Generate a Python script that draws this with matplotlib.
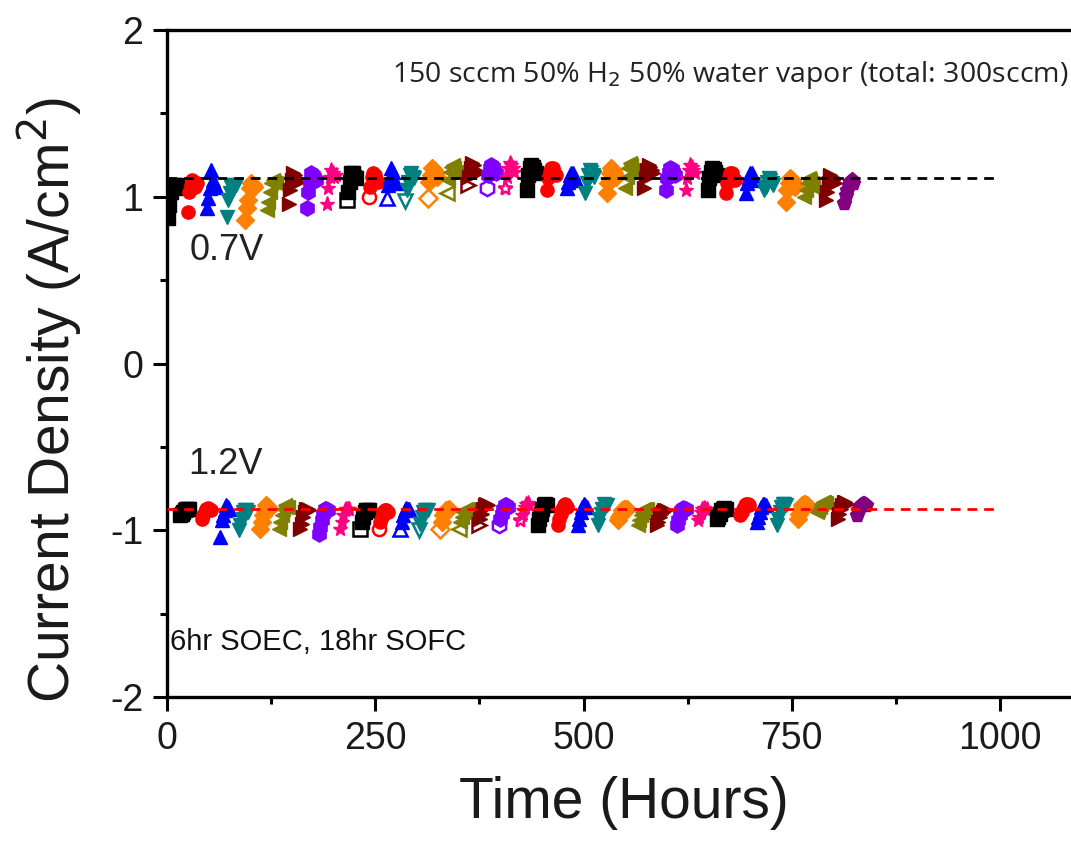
import matplotlib
matplotlib.use("Agg")
import matplotlib.pyplot as plt

# ---- data -------------------------------------------------------------
# hours at which each operating block starts (SOFC at 0.7 V, SOEC at 1.2 V)
sofc_start = [1, 25, 48, 72, 94, 120, 146, 168, 192, 216, 242, 264, 286, 313,
              336, 361, 384, 406, 432, 456, 480, 502, 528, 550, 573, 599, 623,
              649, 671, 695, 717, 743, 765, 791, 813]
soec_start = [16, 42, 64, 86, 112, 134, 160, 182, 208, 232, 254, 280, 302, 328,
              350, 374, 398, 424, 445, 469, 493, 517, 541, 565, 588, 612, 637,
              660, 688, 708, 732, 757, 780, 805, 828]
# sampling offsets (hours) inside one block
sample_offsets = [0, 1.8, 3.6, 5.4, 7.2, 9.0, 10.8]

# current density (A/cm2) during each SOFC block at 0.7 V
sofc_j = [
    [0.87, 0.95, 1.03, 1.06, 1.07, 1.05, 1.07],
    [0.91, 1.03, 1.07, 1.10, 1.09, 1.06, 1.08],
    [0.93, 0.99, 1.05, 1.16, 1.10, 1.08, 1.06],
    [0.88, 0.98, 1.02, 1.06, 1.07, 1.05, 1.07],
    [0.86, 0.93, 0.98, 1.05, 1.08, 1.07, 1.06],
    [0.92, 0.97, 1.03, 1.08, 1.10, 1.09, 1.08],
    [0.955, 1.04, 1.10, 1.145, 1.13, 1.11, 1.09],
    [0.935, 1.03, 1.09, 1.14, 1.13, 1.12, 1.10],
    [0.955, 1.05, 1.12, 1.16, 1.14, 1.12, 1.13],
    [0.98, 1.03, 1.09, 1.14, 1.145, 1.12, 1.11],
    [1.00, 1.06, 1.12, 1.145, 1.13, 1.10, 1.09],
    [0.99, 1.07, 1.12, 1.17, 1.15, 1.10, 1.08],
    [0.975, 1.04, 1.09, 1.13, 1.14, 1.12, 1.11],
    [0.995, 1.09, 1.13, 1.17, 1.16, 1.14, 1.12],
    [1.025, 1.10, 1.15, 1.18, 1.19, 1.17, 1.15],
    [1.07, 1.12, 1.17, 1.20, 1.19, 1.16, 1.14],
    [1.05, 1.13, 1.17, 1.19, 1.18, 1.16, 1.14],
    [1.05, 1.12, 1.17, 1.20, 1.19, 1.17, 1.15],
    [1.04, 1.13, 1.17, 1.19, 1.18, 1.16, 1.14],
    [1.04, 1.11, 1.15, 1.175, 1.17, 1.15, 1.13],
    [1.055, 1.09, 1.13, 1.145, 1.14, 1.12, 1.10],
    [1.02, 1.08, 1.13, 1.16, 1.15, 1.13, 1.12],
    [1.02, 1.085, 1.14, 1.17, 1.16, 1.14, 1.12],
    [1.055, 1.12, 1.17, 1.20, 1.19, 1.16, 1.14],
    [1.05, 1.11, 1.16, 1.19, 1.18, 1.16, 1.14],
    [1.04, 1.115, 1.15, 1.17, 1.165, 1.15, 1.13],
    [1.04, 1.11, 1.16, 1.19, 1.18, 1.16, 1.14],
    [1.04, 1.11, 1.15, 1.17, 1.165, 1.15, 1.13],
    [1.02, 1.085, 1.12, 1.145, 1.14, 1.12, 1.10],
    [1.02, 1.08, 1.12, 1.145, 1.14, 1.11, 1.10],
    [1.04, 1.06, 1.09, 1.11, 1.10, 1.08, 1.07],
    [0.97, 1.04, 1.08, 1.11, 1.10, 1.08, 1.06],
    [1.00, 1.04, 1.08, 1.115, 1.10, 1.08, 1.06],
    [0.98, 1.03, 1.08, 1.13, 1.12, 1.10, 1.08],
    [0.96, 1.01, 1.04, 1.07, 1.09, 1.10, 1.08],
]

# current density (A/cm2) during each SOEC block at 1.2 V
soec_j = [
    [-0.91, -0.90, -0.89, -0.88, -0.87, -0.87, -0.87],
    [-0.93, -0.91, -0.89, -0.87, -0.865, -0.87, -0.88],
    [-1.04, -0.94, -0.91, -0.88, -0.85, -0.86, -0.87],
    [-1.00, -0.97, -0.93, -0.89, -0.88, -0.88, -0.89],
    [-0.99, -0.95, -0.91, -0.88, -0.85, -0.86, -0.87],
    [-0.99, -0.95, -0.91, -0.87, -0.85, -0.86, -0.86],
    [-0.99, -0.96, -0.92, -0.89, -0.87, -0.87, -0.88],
    [-1.02, -0.98, -0.94, -0.90, -0.87, -0.87, -0.88],
    [-0.99, -0.95, -0.91, -0.88, -0.87, -0.87, -0.87],
    [-0.99, -0.95, -0.92, -0.89, -0.88, -0.88, -0.88],
    [-0.99, -0.95, -0.92, -0.89, -0.88, -0.88, -0.89],
    [-0.99, -0.95, -0.91, -0.88, -0.865, -0.87, -0.87],
    [-1.00, -0.96, -0.92, -0.89, -0.88, -0.88, -0.88],
    [-0.99, -0.95, -0.91, -0.89, -0.88, -0.88, -0.87],
    [-0.99, -0.95, -0.92, -0.89, -0.88, -0.87, -0.87],
    [-0.97, -0.93, -0.90, -0.87, -0.85, -0.845, -0.85],
    [-0.97, -0.93, -0.90, -0.87, -0.85, -0.85, -0.86],
    [-0.94, -0.91, -0.88, -0.86, -0.84, -0.835, -0.85],
    [-0.97, -0.93, -0.90, -0.87, -0.85, -0.845, -0.85],
    [-0.97, -0.93, -0.90, -0.87, -0.85, -0.845, -0.86],
    [-0.97, -0.93, -0.89, -0.86, -0.845, -0.85, -0.86],
    [-0.97, -0.93, -0.90, -0.87, -0.845, -0.85, -0.85],
    [-0.94, -0.92, -0.90, -0.88, -0.87, -0.87, -0.87],
    [-0.97, -0.94, -0.91, -0.89, -0.87, -0.87, -0.87],
    [-0.97, -0.95, -0.92, -0.90, -0.89, -0.88, -0.88],
    [-0.97, -0.94, -0.91, -0.88, -0.865, -0.87, -0.87],
    [-0.94, -0.92, -0.89, -0.87, -0.865, -0.87, -0.87],
    [-0.93, -0.92, -0.90, -0.88, -0.87, -0.865, -0.87],
    [-0.91, -0.89, -0.87, -0.85, -0.84, -0.84, -0.85],
    [-0.95, -0.92, -0.89, -0.86, -0.845, -0.84, -0.85],
    [-0.97, -0.93, -0.89, -0.86, -0.845, -0.84, -0.85],
    [-0.93, -0.90, -0.87, -0.85, -0.84, -0.84, -0.85],
    [-0.89, -0.88, -0.86, -0.84, -0.83, -0.83, -0.835],
    [-0.93, -0.90, -0.87, -0.85, -0.83, -0.83, -0.84],
    [-0.91, -0.88, -0.86, -0.85, -0.84, -0.84, -0.85],
]

sofc_ref = 1.11      # reference level at 0.7 V
soec_ref = -0.875    # reference level at 1.2 V
ref_span = [0, 1000]

x_ticks = [0, 250, 500, 750, 1000]
y_ticks = [-2, -1, 0, 1, 2]

# ---- styling ------------------------------------------------------------
palette = ['#000000', '#FF0000', '#0000FF', '#008080', '#FF8000',
           '#808000', '#800000', '#8000FF', '#FF0080']
symbols = ['s', 'o', '^', 'v', 'D', '<', '>', 'h', '*']
last_color, last_symbol = '#800080', 'p'

W, H = 1071, 842
fig = plt.figure(figsize=(W / 100, H / 100), dpi=100)
fig.patch.set_facecolor('white')

left_px, right_px, top_px, bottom_px = 167, 1071, 30, 697
ax = fig.add_axes([left_px / W, 1 - bottom_px / H,
                   (right_px - left_px) / W, (bottom_px - top_px) / H])

n_blocks = len(sofc_start)
for k in range(n_blocks):
    if k == n_blocks - 1:
        col, mk = last_color, last_symbol
    else:
        col, mk = palette[k % 9], symbols[k % 9]
    hollow_first = 9 <= k < 18
    for starts, vals in ((sofc_start, sofc_j), (soec_start, soec_j)):
        t = [starts[k] + o for o in sample_offsets]
        v = vals[k]
        ms = 11 if mk in ('*', 'h', 'p') else 9.5
        if hollow_first:
            # first reading after switching drawn as an open symbol
            ax.plot(t[:1], v[:1], linestyle='none', marker=mk, markersize=ms,
                    markerfacecolor='white', markeredgecolor=col,
                    markeredgewidth=1.8, zorder=2)
            t, v = t[1:], v[1:]
        ax.plot(t, v, linestyle='none', marker=mk, markersize=ms,
                markerfacecolor=col, markeredgecolor=col,
                markeredgewidth=1.0, zorder=2)

ax.plot(ref_span, [sofc_ref, sofc_ref], color='black', lw=2.0,
        dashes=(3.5, 2.5), zorder=4)
ax.plot(ref_span, [soec_ref, soec_ref], color='#FF0000', lw=2.0,
        dashes=(3.5, 2.5), zorder=4)

ax.set_xlim(0, (right_px - left_px) / ((1000 - left_px) / 1000))
ax.set_ylim(-2, 2)
ax.set_xticks(x_ticks)
ax.set_xticks([125, 375, 625, 875], minor=True)
ax.set_yticks(y_ticks)
ax.set_yticks([-1.5, -0.5, 0.5, 1.5], minor=True)

tick_font = dict(family='Liberation Sans', size=27)
ax.set_xticklabels([str(v) for v in x_ticks], **tick_font, color='#1a1a1a')
ax.set_yticklabels([str(v) for v in y_ticks], **tick_font, color='#1a1a1a')
ax.tick_params(which='major', direction='out', length=10, width=2.2, pad=7)
ax.tick_params(which='minor', direction='out', length=5, width=2.2)

for s in ('left', 'top', 'bottom'):
    ax.spines[s].set_linewidth(2.4)
ax.spines['right'].set_visible(False)

fig.text(50 / W, 1 - 400 / H, 'Current Density (A/cm$^2$)', rotation=90,
         ha='center', va='center', family='Liberation Sans', size=41,
         color='#1a1a1a')
fig.text(624 / W, 1 - 803 / H, 'Time (Hours)', ha='center', va='center',
         family='Liberation Sans', size=41, color='#1a1a1a')

fig.text(1068 / W, 1 - 75 / H, '150 sccm 50% H$_2$ 50% water vapor (total: 300sccm)',
         ha='right', va='center', family='Open Sans', size=20.5,
         color='#222222')
fig.text(190 / W, 1 - 250 / H, '0.7V', ha='left', va='center',
         family='Liberation Sans', size=26, color='#222222')
fig.text(188 / W, 1 - 465 / H, '1.2V', ha='left', va='center',
         family='Liberation Sans', size=26, color='#222222')
fig.text(170 / W, 1 - 642 / H, '6hr SOEC, 18hr SOFC', ha='left', va='center',
         family='Liberation Sans', size=21, color='#111111')

fig.savefig('out.png', dpi=100, facecolor='white')
